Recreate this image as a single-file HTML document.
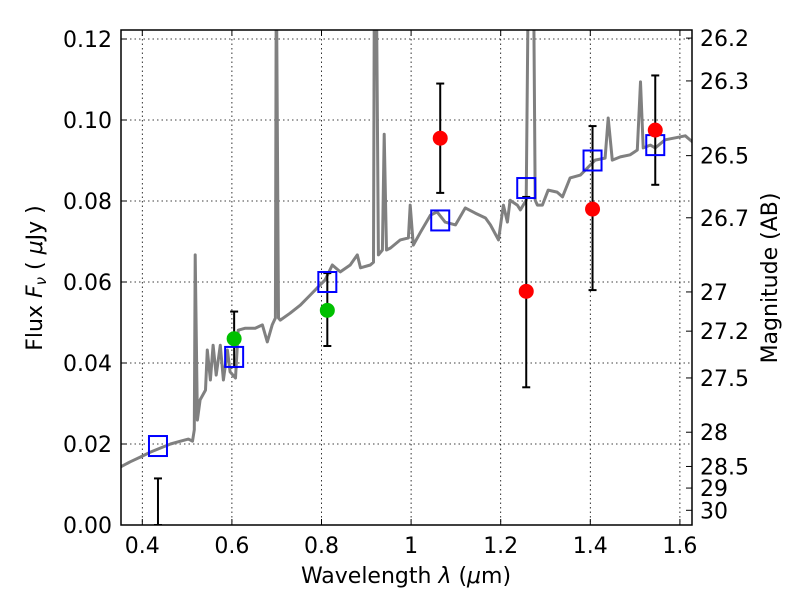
<!DOCTYPE html>
<html><head><meta charset="utf-8"><style>
body{margin:0;background:#fff}
svg text{font-family:"DejaVu Sans","Liberation Sans",sans-serif;fill:#000}
</style></head><body>
<svg id="c" width="800" height="600" viewBox="0 0 800 600">
<defs><clipPath id="clip"><rect x="121" y="30" width="571" height="495"/></clipPath></defs>
<rect x="0" y="0" width="800" height="600" fill="#fff"/>
<g id="grid"></g>
<g id="plot" clip-path="url(#clip)"></g>
<rect x="121" y="30" width="571" height="495" fill="none" stroke="#000" stroke-width="1.5"/>
<g id="axes"></g>
<text x="406" y="583" font-size="22" text-anchor="middle">Wavelength  <tspan font-style="italic">λ</tspan> (<tspan font-style="italic">μ</tspan>m)</text>
<text transform="translate(42,278) rotate(-90)" font-size="22" text-anchor="middle">Flux  <tspan font-style="italic">F</tspan><tspan font-style="italic" font-size="15" dy="4">ν</tspan><tspan dy="-4">  ( </tspan><tspan font-style="italic">μ</tspan>Jy )</text>
<text transform="translate(777,278) rotate(-90)" font-size="22" text-anchor="middle">Magnitude (AB)</text>
</svg>
<script>
const specLam=[0.351,0.373,0.396,0.418,0.440,0.463,0.485,0.503,0.512,0.516,0.518,0.523,0.529,0.541,0.545,0.552,0.558,0.565,0.574,0.581,0.590,0.596,0.608,0.614,0.630,0.652,0.668,0.679,0.690,0.697,0.699,0.704,0.708,0.730,0.753,0.775,0.797,0.808,0.824,0.842,0.864,0.880,0.887,0.909,0.916,0.918,0.922,0.927,0.936,0.940,0.945,0.954,0.976,0.994,0.998,1.005,1.021,1.043,1.058,1.076,1.099,1.121,1.143,1.166,1.177,1.195,1.206,1.215,1.221,1.237,1.244,1.257,1.262,1.273,1.277,1.282,1.293,1.306,1.326,1.338,1.355,1.378,1.393,1.411,1.433,1.440,1.449,1.467,1.489,1.505,1.512,1.518,1.534,1.545,1.567,1.590,1.612,1.628];
const specFlux=[0.0143,0.0156,0.0168,0.0180,0.0190,0.0200,0.0207,0.0212,0.0207,0.0235,0.0667,0.0259,0.0309,0.0333,0.0432,0.0358,0.0444,0.0370,0.0444,0.0358,0.0432,0.0378,0.0363,0.0481,0.0486,0.0486,0.0494,0.0452,0.0494,0.0511,0.14,0.0511,0.0506,0.0523,0.0543,0.0568,0.0593,0.0605,0.0642,0.0625,0.0642,0.0667,0.0635,0.0642,0.0649,0.14,0.14,0.0667,0.0679,0.0965,0.0679,0.0684,0.0704,0.0709,0.0790,0.0691,0.0723,0.0765,0.0773,0.0748,0.0741,0.0783,0.0770,0.0758,0.0741,0.0704,0.0790,0.0748,0.0802,0.0790,0.0778,0.0802,0.14,0.14,0.0802,0.0790,0.0790,0.0827,0.0822,0.0810,0.0857,0.0864,0.0881,0.0901,0.0906,0.1005,0.0901,0.0909,0.0914,0.0926,0.1094,0.0931,0.0938,0.0931,0.0951,0.0956,0.0961,0.0946];
const bandLam=[0.435,0.605,0.813,1.065,1.257,1.405,1.545];
const modelFlux=[0.0195,0.0415,0.0600,0.0752,0.0832,0.0900,0.0938];
const obsFlux=[-0.0015,0.046,0.053,0.0955,0.0577,0.078,0.0975];
const obsLow=[0.0,0.039,0.0442,0.082,0.034,0.058,0.084];
const obsHigh=[0.0115,0.0527,0.0622,0.109,0.081,0.0985,0.111];
const obsColor=['#00c000','#00c000','#00c000','#ff0000','#ff0000','#ff0000','#ff0000'];
const xTicks=[0.4,0.6,0.8,1.0,1.2,1.4,1.6];
const xTickLabels=['0.4','0.6','0.8','1','1.2','1.4','1.6'];
const yTicks=[0,0.02,0.04,0.06,0.08,0.10,0.12];
const yTickLabels=['0.00','0.02','0.04','0.06','0.08','0.10','0.12'];
const magTicks=[26.2,26.3,26.5,26.7,27,27.2,27.5,28,28.5,29,30];
const magTickLabels=['26.2','26.3','26.5','26.7','27','27.2','27.5','28','28.5','29','30'];

const NS='http://www.w3.org/2000/svg';
const X=v=>142.3+(v-0.4)*448;
const Y=v=>525-v*4050;
const magToFlux=m=>Math.pow(10,(23.9-m)/2.5);
function mk(parent,tag,attrs){const e=document.createElementNS(NS,tag);for(const k in attrs)e.setAttribute(k,attrs[k]);parent.appendChild(e);return e;}
const grid=document.getElementById('grid'),plot=document.getElementById('plot'),axes=document.getElementById('axes');

xTicks.forEach((t,i)=>{
  const g=mk(grid,'line',{x1:X(t),x2:X(t),y1:30,y2:525,stroke:'#000','stroke-width':0.8,'stroke-dasharray':'1.5,3'});
  
  
  mk(axes,'line',{x1:X(t),x2:X(t),y1:525,y2:519,stroke:'#000'});
  mk(axes,'line',{x1:X(t),x2:X(t),y1:30,y2:36,stroke:'#000'});
  const tx=mk(axes,'text',{x:X(t),y:553,'font-size':22,'text-anchor':'middle'});
  tx.textContent=xTickLabels[i];
  
  
});
yTicks.forEach((t,i)=>{
  const g=mk(grid,'line',{x1:121,x2:692,y1:Y(t),y2:Y(t),stroke:'#000','stroke-width':0.8,'stroke-dasharray':'1.5,3'});
  
  
  mk(axes,'line',{x1:121,x2:127,y1:Y(t),y2:Y(t),stroke:'#000'});
  const tx=mk(axes,'text',{x:112,y:Y(t)+8,'font-size':22,'text-anchor':'end'});
  tx.textContent=yTickLabels[i];
  
  
});
magTicks.forEach((m,i)=>{
  const y=Y(magToFlux(m));
  mk(axes,'line',{x1:692,x2:686,y1:y,y2:y,stroke:'#000'});
  const tx=mk(axes,'text',{x:700,y:y+8,'font-size':22});
  tx.textContent=magTickLabels[i];
  
  
});

const pts=specLam.map((l,i)=>X(l).toFixed(1)+','+Y(specFlux[i]).toFixed(1)).join(' ');
const sp=mk(plot,'polyline',{points:pts,fill:'none',stroke:'#808080','stroke-width':3,'stroke-linejoin':'round'});



bandLam.forEach((l,i)=>{
  const x=X(l);
  const eb=mk(plot,'g',{});
  
  
  mk(eb,'line',{x1:x,x2:x,y1:Y(obsLow[i]),y2:Y(obsHigh[i]),stroke:'#000','stroke-width':2});
  mk(eb,'line',{x1:x-4,x2:x+4,y1:Y(obsLow[i]),y2:Y(obsLow[i]),stroke:'#000','stroke-width':2});
  mk(eb,'line',{x1:x-4,x2:x+4,y1:Y(obsHigh[i]),y2:Y(obsHigh[i]),stroke:'#000','stroke-width':2});
  const sq=mk(plot,'rect',{x:x-9,y:Y(modelFlux[i])-10,width:18,height:20,fill:'none',stroke:'#0000ff','stroke-width':2});
  
  
  const c=mk(plot,'circle',{cx:x,cy:Y(obsFlux[i]),r:i===0?6:7.5,fill:obsColor[i]});
  
  
});
</script>
</body></html>
